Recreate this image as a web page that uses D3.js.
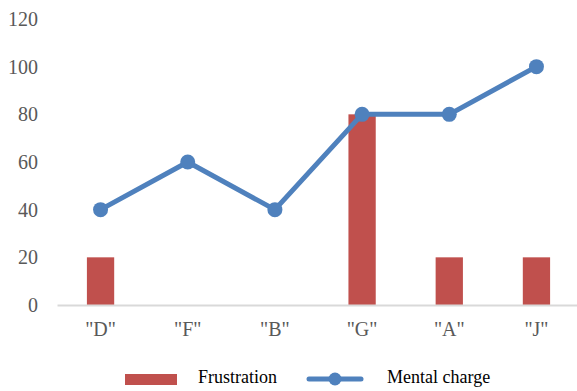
<!DOCTYPE html>
<html>
<head>
<meta charset="utf-8">
<script src="https://cdn.jsdelivr.net/npm/d3@7"></script>
<style>
  html, body { margin: 0; padding: 0; background: #fff; }
  svg { display: block; }
  .serif, .serif text { font-family: 'Liberation Serif', 'Times New Roman', serif; }
</style>
</head>
<body>
<svg id="chart" width="577" height="391"></svg>
<script>
// Category labels and the two series
const categories = ['"D"', '"F"', '"B"', '"G"', '"A"', '"J"'];
const frustration = [20, 0, 0, 80, 20, 20];
const mentalCharge = [40, 60, 40, 80, 80, 100];
const yTicks = [0, 20, 40, 60, 80, 100, 120];
const seriesNames = ["Frustration", "Mental charge"];

const barColor = "#C0504D";
const lineColor = "#4F81BD";
const font = "'Liberation Serif', 'Times New Roman', serif";

const svg = d3.select("#chart");

const x = d3.scaleBand().domain(categories).range([57, 580]).paddingInner(0.687).paddingOuter(0.343);
const y = d3.scaleLinear().domain([0, 120]).range([305, 19]);

// Y axis labels (no axis line, no gridlines)
const yAxis = d3.axisLeft(y).tickValues(yTicks).tickSize(0).tickPadding(0);
const gy = svg.append("g").attr("transform", "translate(38,0)").call(yAxis)
  .attr("font-family", font).attr("font-size", 20).attr("class", "serif");
gy.select(".domain").remove();
gy.selectAll("text").attr("fill", "#595959");

// Bars
svg.append("g").selectAll("rect")
  .data(categories.map((c, i) => ({ c, v: frustration[i] })).filter(d => d.v > 0))
  .join("rect")
  .attr("x", d => x(d.c))
  .attr("y", d => y(d.v))
  .attr("width", x.bandwidth())
  .attr("height", d => y(0) - y(d.v))
  .attr("fill", barColor);

// X axis
const xAxis = d3.axisBottom(x).tickSize(0).tickPadding(17);
const gx = svg.append("g").attr("transform", `translate(0,${y(0)})`).call(xAxis)
  .attr("font-family", font).attr("font-size", 20).attr("class", "serif");
gx.select(".domain").attr("stroke", "#D9D9D9").attr("stroke-width", 2);
gx.selectAll("text").attr("fill", "#595959");

// Line with markers
const cx = c => x(c) + x.bandwidth() / 2;
const pts = categories.map((c, i) => ({ c, v: mentalCharge[i] }));
svg.append("path")
  .datum(pts)
  .attr("fill", "none")
  .attr("stroke", lineColor)
  .attr("stroke-width", 5)
  .attr("stroke-linejoin", "round")
  .attr("d", d3.line().x(d => cx(d.c)).y(d => y(d.v)));
svg.append("g").selectAll("circle")
  .data(pts)
  .join("circle")
  .attr("cx", d => cx(d.c))
  .attr("cy", d => y(d.v))
  .attr("r", 7.5)
  .attr("fill", lineColor);

// Legend
const lg = svg.append("g").attr("class", "serif");
lg.append("rect").attr("x", 125).attr("y", 374).attr("width", 52).attr("height", 11).attr("fill", barColor);
lg.append("text").attr("x", 198).attr("y", 383)
  .attr("font-family", font).attr("font-size", 18).attr("fill", "#000").text(seriesNames[0]);
lg.append("line").attr("x1", 309).attr("x2", 361).attr("y1", 379).attr("y2", 379)
  .attr("stroke", lineColor).attr("stroke-width", 5).attr("stroke-linecap", "round");
lg.append("circle").attr("cx", 335).attr("cy", 379).attr("r", 6.5).attr("fill", lineColor);
lg.append("text").attr("x", 387).attr("y", 383)
  .attr("font-family", font).attr("font-size", 18).attr("fill", "#000").text(seriesNames[1]);
</script>
</body>
</html>
